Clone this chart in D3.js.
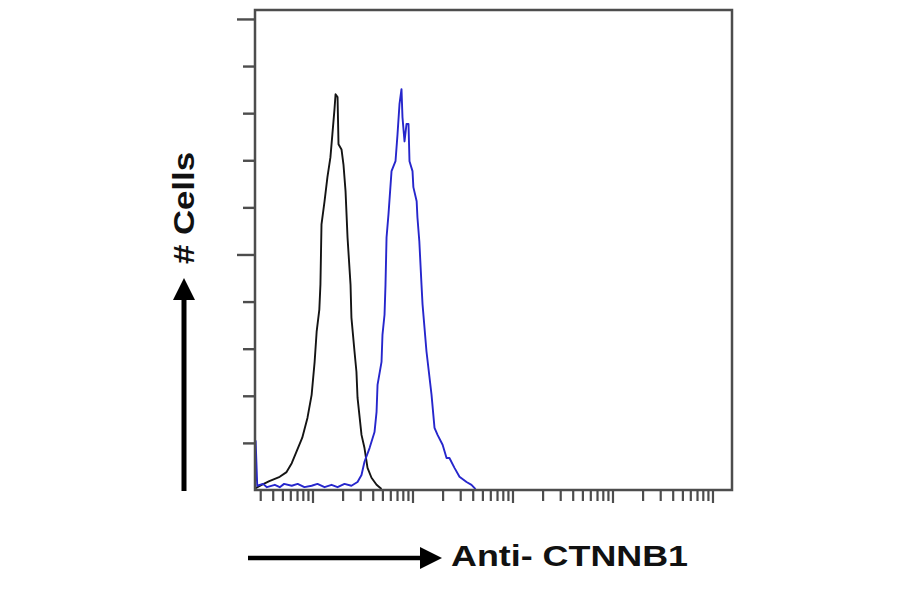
<!DOCTYPE html>
<html>
<head>
<meta charset="utf-8">
<script src="https://cdn.jsdelivr.net/npm/d3@7"></script>
<style>
  html, body { margin: 0; padding: 0; background: #fff; }
  svg { display: block; }
</style>
</head>
<body>
<svg id="chart" width="900" height="594"></svg>
<script>
// ---- data ----
// isotype control (black)
const isotypeChannel = [2.7, 3.1, 3.7, 4.7, 5.5, 6.2, 6.9, 7.9, 8.9, 9.8, 10.5, 11.0, 11.7, 12.0, 12.3, 13.2, 14.1, 15.1, 15.8, 16.6, 17.0, 17.8, 18.2, 19.5, 20.4, 21.4, 22.4, 24.0, 24.5, 26.3, 27.5, 28.2, 30.9, 33.1, 35.5, 38.9, 43.7, 49.0];
const isotypeCount   = [0.4, 1.1, 1.9, 2.8, 3.8, 5.7, 8.1, 11.1, 15.3, 20.2, 27.2, 33.6, 38.3, 43.6, 56.4, 61.3, 66.4, 70.6, 75.5, 80.9, 84.0, 83.4, 73.4, 72.3, 69.1, 63.4, 53.6, 43.6, 36.6, 29.4, 25.1, 19.6, 11.7, 8.9, 4.7, 2.6, 1.1, 0.2];
// Anti-CTNNB1 (blue)
const ctnnb1Channel = [2.66, 2.7, 2.8, 3.2, 3.5, 4.2, 4.7, 5.2, 6.2, 7.1, 8.3, 9.8, 11.2, 13.2, 15.5, 17.8, 20.9, 24.5, 28.2, 30.9, 33.1, 37.2, 41.7, 43.7, 44.7, 49.0, 50.1, 52.5, 53.7, 55.0, 57.5, 61.7, 67.6, 70.8, 74.1, 77.6, 79.4, 83.2, 87.1, 91.2, 93.3, 100, 102, 110, 112, 117, 123, 126, 138, 155, 166, 178, 200, 219, 234, 263, 295, 347, 389, 427];
const ctnnb1Count   = [0, 10.4, 0.9, 1.3, 0.6, 1.1, 0.6, 1.3, 0.9, 1.3, 0.6, 0.9, 1.3, 0.6, 1.1, 0.6, 1.3, 0.9, 1.7, 3.2, 6.0, 8.9, 12.3, 16.6, 22.3, 27.2, 33.0, 37.2, 43.6, 53.6, 58.5, 67.7, 69.8, 75.5, 81.9, 85.1, 79.1, 74.0, 77.7, 77.7, 69.8, 67.7, 64.3, 61.3, 57.9, 52.8, 43.6, 39.4, 29.4, 20.2, 13.2, 11.7, 9.6, 6.8, 6.8, 4.7, 2.8, 1.7, 1.1, 0.2];
const yTickValues = [10, 20, 30, 40, 50, 60, 70, 80, 90, 100];
const yLongTicks = [50, 100];
const xDomain = [2.66, 156700];
const yDomain = [0, 101.9];
const xLabel = "Anti- CTNNB1";
const yLabel = "# Cells";

// ---- layout ----
const L = 255, R = 732, T = 10, B = 490;
const svg = d3.select("#chart");

const x = d3.scaleLog().domain(xDomain).range([L, R]);
const y = d3.scaleLinear().domain(yDomain).range([B, T]);

const frameColor = "#4d4d4d";

// y ticks
const yAxis = svg.append("g")
  .attr("transform", `translate(${L},0)`)
  .call(d3.axisLeft(y).tickValues(yTickValues).tickSize(12).tickFormat(""));
yAxis.select(".domain").remove();
yAxis.selectAll(".tick line")
  .attr("stroke", frameColor).attr("stroke-width", 2.4)
  .attr("x2", d => yLongTicks.includes(d) ? -18 : -12);

// x ticks (log)
const xTicks = x.ticks().filter(v => v >= xDomain[0] && v <= xDomain[1]);
const isMajor = v => Math.abs(Math.log10(v) - Math.round(Math.log10(v))) < 1e-9;
const xAxis = svg.append("g")
  .attr("transform", `translate(0,${B})`)
  .call(d3.axisBottom(x).tickValues(xTicks).tickSize(11).tickFormat(""));
xAxis.select(".domain").remove();
xAxis.selectAll(".tick line")
  .attr("stroke", frameColor).attr("stroke-width", 2.2)
  .attr("y2", d => isMajor(d) ? 13 : 11);

// curves
const line = d3.line().x(d => x(d[0])).y(d => y(d[1]));
const isoData = d3.zip(isotypeChannel, isotypeCount);
const ctnData = d3.zip(ctnnb1Channel, ctnnb1Count);

svg.append("path").datum(isoData)
  .attr("d", line).attr("fill", "none")
  .attr("stroke", "#141414").attr("stroke-width", 1.9).attr("stroke-linejoin", "round");
svg.append("path").datum(ctnData)
  .attr("d", line).attr("fill", "none")
  .attr("stroke", "#2626cc").attr("stroke-width", 1.9).attr("stroke-linejoin", "round");

// frame
svg.append("rect")
  .attr("x", L).attr("y", T).attr("width", R - L).attr("height", B - T)
  .attr("fill", "none").attr("stroke", frameColor).attr("stroke-width", 2.5);

// arrows
svg.append("line").attr("x1", 248).attr("y1", 558).attr("x2", 425).attr("y2", 558)
  .attr("stroke", "#000").attr("stroke-width", 4.5);
svg.append("path").attr("d", "M420,547 L442,558 L420,569 Z").attr("fill", "#000");

svg.append("line").attr("x1", 184).attr("y1", 491).attr("x2", 184).attr("y2", 295)
  .attr("stroke", "#000").attr("stroke-width", 5);
svg.append("path").attr("d", "M173,300 L184,278 L195,300 Z").attr("fill", "#000");

// labels
svg.append("text")
  .attr("x", 451).attr("y", 566)
  .attr("font-family", "'Liberation Sans', Arial, sans-serif")
  .attr("font-weight", "bold").attr("font-size", 29)
  .attr("textLength", 237).attr("lengthAdjust", "spacingAndGlyphs")
  .attr("fill", "#111")
  .text(xLabel);

svg.append("text")
  .attr("transform", "translate(194,264) rotate(-90)")
  .attr("font-family", "'Liberation Sans', Arial, sans-serif")
  .attr("font-weight", "bold").attr("font-size", 30)
  .attr("textLength", 112).attr("lengthAdjust", "spacingAndGlyphs")
  .attr("fill", "#111")
  .text(yLabel);
</script>
</body>
</html>
